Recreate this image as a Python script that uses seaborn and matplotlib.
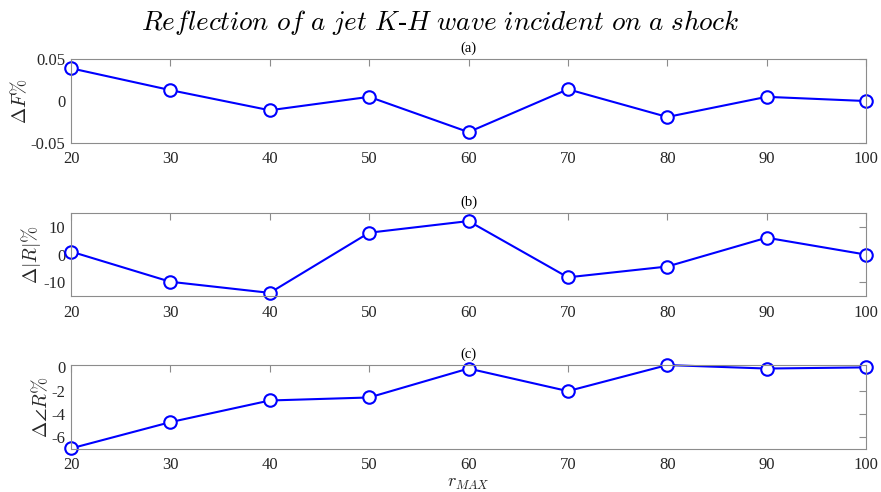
import matplotlib
matplotlib.use("Agg")
import matplotlib.pyplot as plt
import seaborn as sns
import pandas as pd

r_max = [20, 30, 40, 50, 60, 70, 80, 90, 100]
dF = [0.039, 0.013, -0.011, 0.005, -0.037, 0.014, -0.019, 0.005, 0.0]
dR = [1.1, -9.8, -13.8, 7.9, 12.1, -8.2, -4.3, 6.1, 0.0]
dAng = [-7.0, -4.73, -2.86, -2.6, -0.1, -2.05, 0.2, -0.1, 0.0]

sns.set_theme(style="white")
plt.rcParams['font.family'] = ['Liberation Serif', 'DejaVu Serif']
plt.rcParams['mathtext.fontset'] = 'cm'

fig = plt.figure(figsize=(8.81, 4.92), dpi=100)
L, W = 0.0806, 0.9024
boxes = [(0.7093, 0.1707), (0.398, 0.169), (0.0874, 0.1706)]
series = [dF, dR, dAng]
ylabels = [r'$\Delta F\%$', r'$\Delta|R|\%$', r'$\Delta\angle R\%$']
ylims = [(-0.05, 0.05), (-15, 15), (-7.05, 0.2)]
yticks = [[-0.05, 0, 0.05], [-10, 0, 10], [-6, -4, -2, 0]]
yticklabels = [['-0.05', '0', '0.05'], ['-10', '0', '10'], ['-6', '-4', '-2', '0']]
sub = ['(a)', '(b)', '(c)']

for i in range(3):
    b, h = boxes[i]
    ax = fig.add_axes([L, b, W, h])
    df = pd.DataFrame({'r': r_max, 'v': series[i]})
    sns.lineplot(data=df, x='r', y='v', ax=ax, color='#0000FF', lw=1.5,
                 marker='o', markersize=9, markerfacecolor='white',
                 markeredgecolor='#0000FF', markeredgewidth=1.5, clip_on=False)
    ax.set_xlim(20, 100)
    ax.set_ylim(*ylims[i])
    ax.set_xticks(r_max)
    ax.set_xticklabels([str(v) for v in r_max])
    ax.set_yticks(yticks[i])
    ax.set_yticklabels(yticklabels[i])
    for s in ax.spines.values():
        s.set_color('#8c8c8c')
        s.set_linewidth(0.8)
    ax.tick_params(direction='in', length=5, width=0.8, color='#8c8c8c',
                   labelsize=12, labelcolor='#262626', top=True, right=True,
                   pad=4)
    ax.tick_params(axis='x', pad=6)
    ax.set_xlabel('')
    ax.set_ylabel(ylabels[i], fontsize=14, color='#262626', labelpad=0)
    ax.set_title(sub[i], fontsize=10.5, color='#000000', pad=5)
    if i == 2:
        ax.set_xlabel(r'$r_{MAX}$', fontsize=13, color='#262626', labelpad=1)

fig.text(0.5, 0.955,
         r'$\mathit{Reflection\ of\ a\ jet\ K}$-$\mathit{H\ wave\ incident\ on\ a\ shock}$',
         ha='center', va='center', fontsize=19.5, color='#000000')

fig.savefig('out.png', dpi=100)
